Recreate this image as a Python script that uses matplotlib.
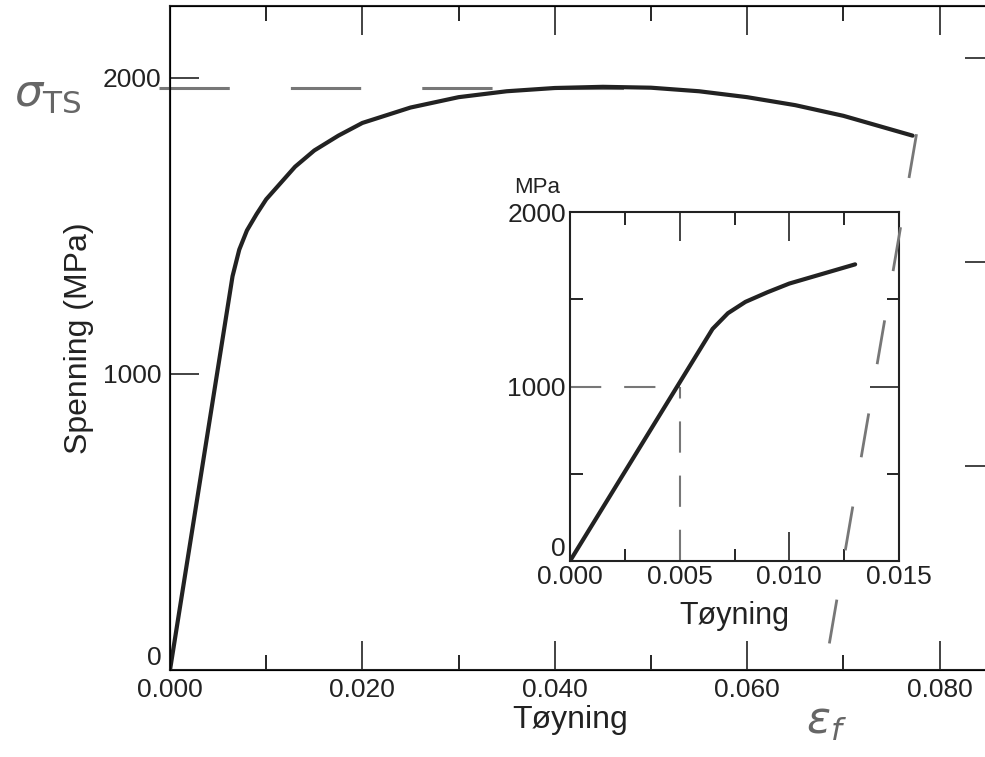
import matplotlib
matplotlib.use("Agg")
import matplotlib.pyplot as plt
from matplotlib.lines import Line2D
from matplotlib.ticker import MultipleLocator, FormatStrFormatter

plt.rcParams['font.family'] = ['Liberation Sans', 'DejaVu Sans']

# stress-strain curve
strain = [0.0, 0.0065, 0.0072, 0.0080, 0.0090, 0.0100, 0.0115, 0.0130, 0.0150,
          0.0175, 0.0200, 0.0250, 0.0300, 0.0350, 0.0400, 0.0450, 0.0500,
          0.0550, 0.0600, 0.0650, 0.0700, 0.0772]
stress = [0, 1330, 1420, 1485, 1540, 1590, 1645, 1700, 1755,
          1805, 1848, 1900, 1935, 1955, 1966, 1970, 1967,
          1955, 1935, 1908, 1872, 1805]
inset_end = 0.0130

# guide lines (hand drawn and printed)
uts_x = [-0.0011, 0.0485]
uts_y = [1965, 1965]
ef_x = [0.0776, 0.0677]
ef_y = [1810, -70]
guide_strain = 0.005
guide_stress = 1000

ksi_ticks = [100, 200, 300]
mpa_per_ksi = 6.895

W, H = 985, 757
fig = plt.figure(figsize=(W / 100, H / 100), dpi=100)

ink = '#222222'
grey = '#777777'

# main axes
ax = fig.add_axes([170 / W, (H - 670) / H, 820 / W, 664 / H])
ax.plot(strain, stress, color=ink, lw=3.0, solid_capstyle='round', zorder=3)
ax.set_xlim(0, 0.08524)
ax.set_ylim(0, 2243)
ax.xaxis.set_major_locator(MultipleLocator(0.02))
ax.xaxis.set_minor_locator(MultipleLocator(0.01))
ax.xaxis.set_major_formatter(FormatStrFormatter('%.3f'))
ax.set_yticks([0, 1000, 2000])
ax.tick_params(axis='both', which='major', direction='in', length=21, width=1.2,
               labelsize=19, colors=ink, pad=6, top=True)
ax.tick_params(axis='x', which='minor', direction='in', length=11, width=1.2, top=True)
ax.tick_params(axis='y', right=False)
for s in ax.spines.values():
    s.set_linewidth(1.5)
    s.set_color(ink)
ax.set_xlabel('Tøyning', fontsize=23, color=ink)
ax.set_ylabel('Spenning (MPa)', fontsize=23, color=ink)
ax.xaxis.set_label_coords(0.488, -0.052)
ax.yaxis.set_label_coords(-0.093, 0.5)
ax.get_yticklabels()[0].set_va('bottom')

# right axis in ksi (ticks only)
axr = ax.twinx()
axr.set_ylim(0, 2243 / mpa_per_ksi)
axr.set_yticks(ksi_ticks)
axr.tick_params(axis='y', direction='in', length=18, width=1.2, labelright=False, colors=ink)
axr.spines['right'].set_linewidth(1.5)

ax.plot(uts_x, uts_y, color=grey, lw=2.2, dashes=(23, 20), clip_on=False, zorder=2)

# inset
ins = fig.add_axes([570 / W, (H - 561) / H, 329 / W, 349 / H])
ins_s = [e for e in strain if e <= inset_end]
ins_y = [stress[i] for i, e in enumerate(strain) if e <= inset_end]
ins.plot(ins_s, ins_y, color=ink, lw=3.0, solid_capstyle='round', zorder=3)
ins.plot([0, guide_strain], [guide_stress, guide_stress], color=grey, lw=1.5,
         dashes=(15, 11), zorder=2)
ins.plot([guide_strain, guide_strain], [0, guide_stress], color=grey, lw=1.5,
         dashes=(15, 11), zorder=2)
ins.set_xlim(0, 0.015)
ins.set_ylim(0, 2000)
ins.xaxis.set_major_locator(MultipleLocator(0.005))
ins.xaxis.set_minor_locator(MultipleLocator(0.0025))
ins.xaxis.set_major_formatter(FormatStrFormatter('%.3f'))
ins.set_yticks([0, 1000, 2000])
ins.yaxis.set_minor_locator(MultipleLocator(500))
ins.tick_params(axis='both', which='major', direction='in', length=21, width=1.2,
                labelsize=19, colors=ink, pad=3, top=True, right=True)
ins.tick_params(axis='both', which='minor', direction='in', length=9, width=1.2,
                top=True, right=True)
for s in ins.spines.values():
    s.set_linewidth(1.5)
    s.set_color(ink)
ins.set_xlabel('Tøyning', fontsize=22, color=ink)
ins.xaxis.set_label_coords(0.5, -0.115)
ins.get_yticklabels()[0].set_va('bottom')
ins.text(-0.10, 1.07, 'MPa', transform=ins.transAxes, fontsize=16, color=ink,
         ha='center', va='center')

# hand drawn fracture-strain line and notes, on top of everything
fig.add_artist(Line2D(ef_x, ef_y, transform=ax.transData, color=grey, lw=2.0,
                      dashes=(16, 18), zorder=5))
fig.text(48 / W, 1 - 95 / H, r'$\sigma_{\mathrm{TS}}$', fontsize=32, color='#666666',
         ha='center', va='center')
fig.text(826 / W, 1 - 722 / H, r'$\varepsilon_f$', fontsize=32, color='#666666',
         ha='center', va='center')

fig.savefig('out.png', dpi=100)
